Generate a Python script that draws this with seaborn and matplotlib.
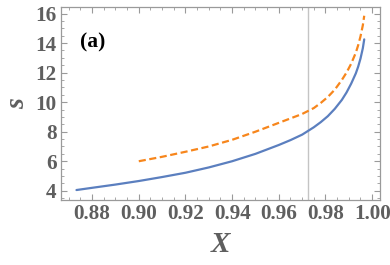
import numpy as np
import pandas as pd
import matplotlib
matplotlib.use("Agg")
import matplotlib.pyplot as plt
from matplotlib.ticker import MultipleLocator
import seaborn as sns

# Curve values
x_solid = [0.8733, 0.88, 0.89, 0.90, 0.91, 0.92, 0.93, 0.94, 0.95, 0.96, 0.965,
           0.97, 0.975, 0.978, 0.981, 0.984, 0.987, 0.989, 0.991, 0.993,
           0.994, 0.995, 0.996, 0.9966]
s_solid = [4.05, 4.2, 4.42, 4.66, 4.93, 5.22, 5.58, 6.0, 6.5, 7.1, 7.43,
           7.8, 8.3, 8.65, 9.05, 9.55, 10.15, 10.65, 11.25, 11.95,
           12.4, 12.95, 13.65, 14.25]

x_dashed = [0.90, 0.91, 0.92, 0.93, 0.94, 0.95, 0.96, 0.965, 0.97, 0.975,
            0.978, 0.981, 0.984, 0.987, 0.989, 0.991, 0.993, 0.994, 0.995,
            0.996, 0.9966]
s_dashed = [6.0, 6.3, 6.64, 7.0, 7.45, 8.0, 8.6, 8.9, 9.2, 9.6,
            9.95, 10.35, 10.85, 11.5, 12.0, 12.6, 13.35, 13.85, 14.45,
            15.2, 15.85]

x_marker = 0.9725
x_ticks = [0.88, 0.90, 0.92, 0.94, 0.96, 0.98, 1.00]
y_ticks = [4, 6, 8, 10, 12, 14, 16]

sns.set_style("ticks")
plt.rcParams['font.family'] = ['Liberation Serif', 'DejaVu Serif']
plt.rcParams['font.weight'] = 'bold'

frame_col = '#9a9a9a'
text_col = '#5f5f5f'

fig = plt.figure(figsize=(3.9, 2.65), dpi=100)
ax = fig.add_axes([0.156, 0.245, 0.818, 0.729])

df_solid = pd.DataFrame({'X': x_solid, 's': s_solid})
df_dashed = pd.DataFrame({'X': x_dashed, 's': s_dashed})

sns.lineplot(data=df_solid, x='X', y='s', ax=ax, color='#5b7fbf', lw=1.6)
sns.lineplot(data=df_dashed, x='X', y='s', ax=ax, color='#f7861c', lw=1.6,
             dashes=False, linestyle=(0, (3.2, 1.6)))
ax.axvline(x_marker, color='#c4c4c4', lw=1.0, zorder=0)

ax.set_xlim(0.8666, 1.0033)
ax.set_ylim(3.37, 16.45)
ax.set_xticks(x_ticks)
ax.set_yticks(y_ticks)
ax.set_xticklabels([f"{v:.2f}" for v in x_ticks])
ax.xaxis.set_minor_locator(MultipleLocator(0.005))
ax.yaxis.set_minor_locator(MultipleLocator(0.5))

for side in ax.spines.values():
    side.set_color(frame_col)
    side.set_linewidth(0.9)
ax.tick_params(which='both', direction='in', top=True, right=True,
               color=frame_col, labelcolor=text_col, labelsize=15.2, pad=3)
ax.tick_params(which='major', length=4, width=0.8)
ax.tick_params(which='minor', length=2, width=0.6)
for lab in ax.get_xticklabels() + ax.get_yticklabels():
    lab.set_fontweight('bold')

ax.set_xlabel('X', fontsize=21, style='italic', fontweight='bold',
              color=text_col, labelpad=5)
ax.set_ylabel('s', fontsize=20, style='italic', fontweight='bold',
              color=text_col, labelpad=4)
ax.text(0.06, 0.815, '(a)', transform=ax.transAxes, fontsize=15.5,
        fontweight='bold', color='black', va='center', ha='left')

fig.savefig('out.png', dpi=100)
